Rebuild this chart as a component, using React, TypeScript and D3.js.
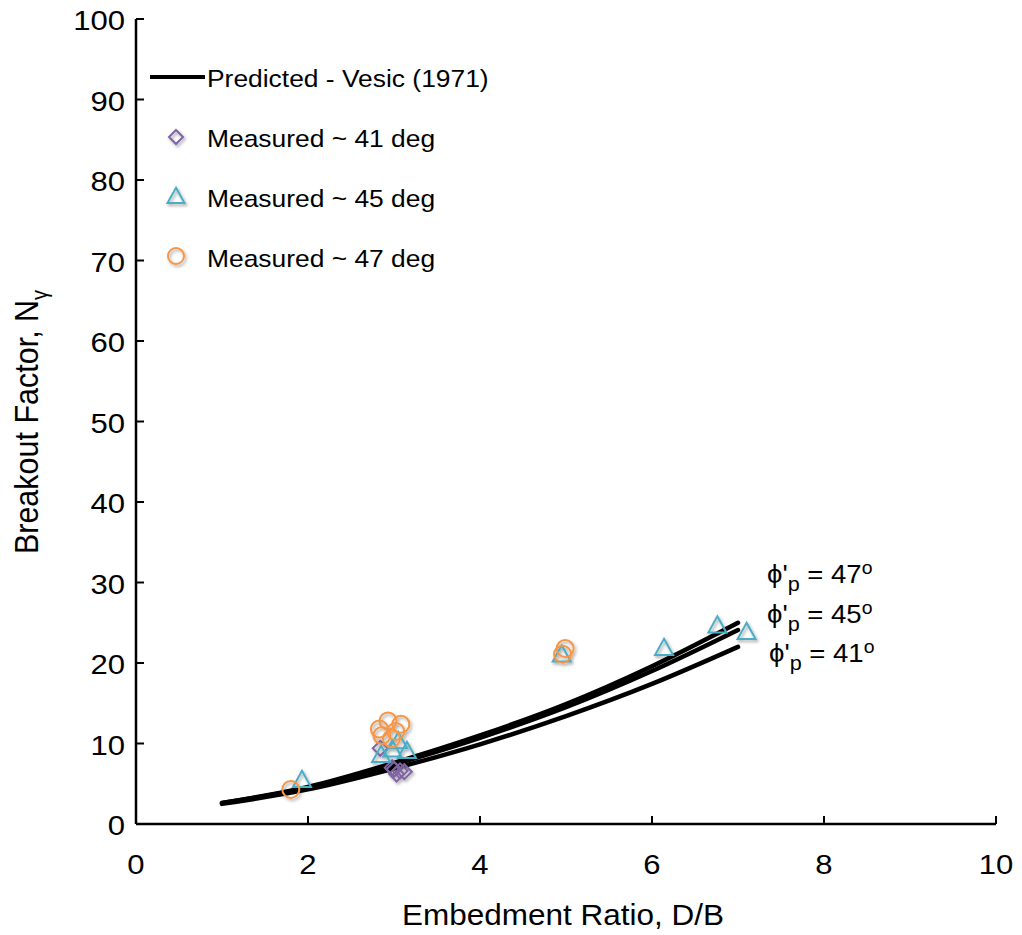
import React from "react";
import * as d3 from "d3";

const xTicks = [0, 2, 4, 6, 8, 10];
const yTicks = [0, 10, 20, 30, 40, 50, 60, 70, 80, 90, 100];

const predX = [1, 2, 3, 4, 5, 6, 7];
const pred47 = [2.6, 4.6, 7.6, 11.0, 14.9, 19.6, 25.0];
const pred45 = [2.6, 4.5, 7.4, 10.7, 14.5, 19.0, 24.1];
const pred41 = [2.5, 4.3, 6.9, 9.9, 13.4, 17.4, 22.0];

const meas41X = [2.84, 2.98, 3.03, 3.07, 3.12, 3.0];
const meas41Y = [9.4, 7.0, 6.2, 6.6, 6.5, 6.8];

const meas45X = [1.93, 2.85, 2.98, 3.05, 3.15, 4.95, 6.14, 6.76, 7.1];
const meas45Y = [5.4, 8.5, 9.2, 10.2, 9.0, 21.0, 21.8, 24.6, 23.8];

const meas47X = [1.8, 2.83, 2.93, 3.08, 2.86, 2.97, 3.02, 4.96, 4.99];
const meas47Y = [4.3, 11.8, 12.8, 12.4, 11.0, 10.6, 11.5, 21.1, 21.8];

const legendLabels = ["Predicted - Vesic (1971)", "Measured ~ 41 deg", "Measured ~ 45 deg", "Measured ~ 47 deg"];
const annoLabels = ["47", "45", "41"];

const PURPLE = "#8064A2";
const TEAL = "#4BACC6";
const ORANGE = "#F79646";

export default function App() {
  const W = 1022, H = 935;
  const x = d3.scaleLinear().domain([0, 10]).range([136, 996]);
  const y = d3.scaleLinear().domain([0, 100]).range([824, 19]);
  const line = d3.line<number>().x((d, i) => x(predX[i])).y((d) => y(d)).curve(d3.curveMonotoneX);
  const font = "'Liberation Sans', Arial, Helvetica, sans-serif";

  const diamond = (cx: number, cy: number, r: number) =>
    `M${cx},${cy - r}L${cx + r},${cy}L${cx},${cy + r}L${cx - r},${cy}Z`;
  const tri = (cx: number, cy: number, s: number) => {
    const h = s * 0.9;
    return `M${cx},${cy - h * 0.6}L${cx + s / 2},${cy + h * 0.4}L${cx - s / 2},${cy + h * 0.4}Z`;
  };
  const tf = (tx: number, ty: number, sx: number) => `translate(${tx},${ty}) scale(${sx},1)`;

  return (
    <svg width={W} height={H} style={{ display: "block", position: "absolute", left: 0, top: 0 }} fontFamily={font}>
      <defs>
        <filter id="sh" x="-50%" y="-50%" width="200%" height="200%">
          <feDropShadow dx="1.5" dy="2" stdDeviation="1.5" floodColor="#000" floodOpacity="0.35" />
        </filter>
      </defs>
      <rect width={W} height={H} fill="#fff" />
      {/* axes */}
      <line x1={x(0)} x2={x(10)} y1={y(0)} y2={y(0)} stroke="#000" strokeWidth={2.5} />
      <line x1={x(0)} x2={x(0)} y1={y(0)} y2={y(100)} stroke="#000" strokeWidth={2.5} />
      {xTicks.map((t) => (
        <g key={"x" + t}>
          {t > 0 && <line x1={x(t)} x2={x(t)} y1={y(0)} y2={y(0) - 8} stroke="#000" strokeWidth={2} />}
          <text transform={tf(x(t), 874, 1.09)} fontSize={28.5} textAnchor="middle">{t}</text>
        </g>
      ))}
      {yTicks.map((t) => (
        <g key={"y" + t}>
          {t > 0 && <line x1={x(0)} x2={x(0) + 8} y1={y(t)} y2={y(t)} stroke="#000" strokeWidth={2} />}
          <text transform={tf(125, y(t) + 11, 1.09)} fontSize={28.5} textAnchor="end">{t}</text>
        </g>
      ))}
      <text transform={tf(563, 925, 1.05)} fontSize={30} textAnchor="middle">Embedment Ratio, D/B</text>
      <text transform={`translate(38,${422}) scale(1.08,1) rotate(-90)`} fontSize={30.5} textAnchor="middle">
        Breakout Factor, N<tspan fontSize={20} dy={8}>γ</tspan>
      </text>

      {/* predicted lines */}
      {[pred47, pred45, pred41].map((s, i) => (
        <path key={"p" + i} d={line(s) || ""} fill="none" stroke="#000" strokeWidth={4.5} strokeLinecap="round" />
      ))}

      {/* markers */}
      <g filter="url(#sh)">
        {meas41X.map((v, i) => (
          <path key={"d" + i} d={diamond(x(v), y(meas41Y[i]), 7.5)} fill="none" stroke={PURPLE} strokeWidth={2} />
        ))}
        {meas45X.map((v, i) => (
          <path key={"t" + i} d={tri(x(v), y(meas45Y[i]), 18)} fill="none" stroke={TEAL} strokeWidth={2} />
        ))}
        {meas47X.map((v, i) => (
          <circle key={"c" + i} cx={x(v)} cy={y(meas47Y[i])} r={8.5} fill="none" stroke={ORANGE} strokeWidth={2} />
        ))}
      </g>

      {/* legend */}
      <line x1={150} x2={205} y1={77} y2={77} stroke="#000" strokeWidth={4} />
      <text transform={tf(207, 87, 1.1)} fontSize={24}>{legendLabels[0]}</text>
      <g filter="url(#sh)">
        <path d={diamond(176, 137, 7)} fill="none" stroke={PURPLE} strokeWidth={2} />
        <path d={tri(176, 197, 17)} fill="none" stroke={TEAL} strokeWidth={2} />
        <circle cx={176} cy={256} r={8} fill="none" stroke={ORANGE} strokeWidth={2} />
      </g>
      {legendLabels.slice(1).map((l, i) => (
        <text key={"l" + i} transform={tf(207, 147 + i * 60, 1.1)} fontSize={24}>{l}</text>
      ))}

      {/* annotations */}
      {annoLabels.map((a, i) => (
        <text key={"a" + i} transform={tf(i === 2 ? 769 : 767, 583 + i * 39.5, 1.08)} fontSize={25.5}>
          ϕ'<tspan fontSize={20} dy={8}>p</tspan>
          <tspan dy={-8}> = {a}</tspan>
          <tspan fontSize={18} dy={-9}>o</tspan>
        </text>
      ))}
    </svg>
  );
}
